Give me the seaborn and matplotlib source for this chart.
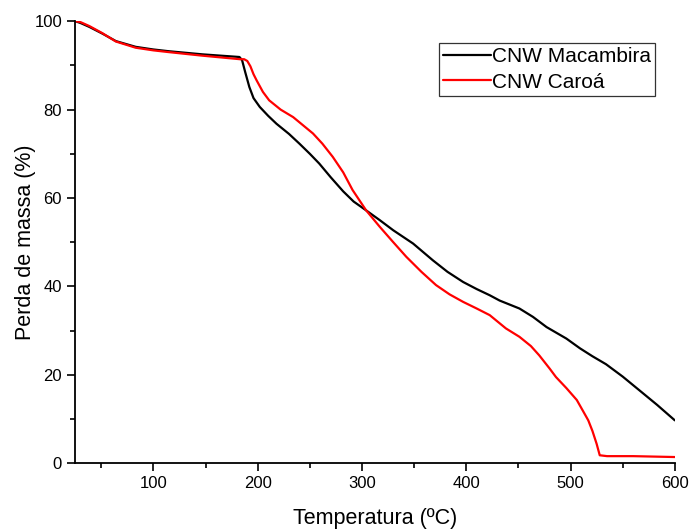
import numpy as np
import pandas as pd
import matplotlib
matplotlib.use('Agg')
import matplotlib.pyplot as plt
import seaborn as sns
from matplotlib.ticker import MultipleLocator

temp_macambira = [25, 30, 38.6, 51, 64, 83, 100, 115, 147, 182.5, 185, 188,
                  192, 196, 202, 210, 218, 230, 240, 250, 259, 270, 282, 292,
                  304, 317, 330, 349, 368, 382, 397, 410, 422.5, 432, 451, 464,
                  477, 496, 509, 521, 534, 550, 566, 583, 600]
massa_macambira = [100, 99.6, 98.7, 97.2, 95.5, 94.2, 93.6, 93.2, 92.5, 91.9,
                   91.2, 88.5, 85.1, 82.6, 80.6, 78.6, 76.8, 74.5, 72.3, 70.0,
                   67.8, 64.7, 61.5, 59.2, 57.2, 55.0, 52.7, 49.7, 45.9, 43.3,
                   41.0, 39.4, 38.0, 36.8, 35.0, 33.1, 30.8, 28.2, 26.0, 24.2,
                   22.4, 19.6, 16.5, 13.2, 9.7]

temp_caroa = [25, 30, 38.6, 51, 64, 83, 100, 115, 147, 183, 187, 190, 193, 196,
              199, 205, 211, 222, 234, 253, 262, 272, 282, 291, 304, 317, 330,
              342.5, 357, 371, 384, 397, 410, 422.5, 438, 451, 462, 470, 480,
              486, 496, 506, 512, 517, 521, 525, 528, 535, 560, 580, 600]
massa_caroa = [100, 99.8, 98.9, 97.3, 95.4, 94.0, 93.4, 93.0, 92.2, 91.4, 91.4,
               91.0, 89.8, 88.0, 86.6, 84.0, 82.1, 80.0, 78.3, 74.6, 72.3, 69.3,
               65.8, 61.8, 57.2, 53.5, 50.0, 46.7, 43.3, 40.3, 38.2, 36.5, 35.0,
               33.5, 30.5, 28.6, 26.5, 24.4, 21.4, 19.5, 17.0, 14.3, 11.8, 9.7,
               7.3, 4.4, 1.8, 1.6, 1.6, 1.5, 1.4]

LABELS = ['CNW Macambira', 'CNW Caroá']
CORES = {'CNW Macambira': 'black', 'CNW Caroá': 'red'}

df = pd.concat([
    pd.DataFrame({'T': temp_macambira, 'm': massa_macambira, 'amostra': LABELS[0]}),
    pd.DataFrame({'T': temp_caroa, 'm': massa_caroa, 'amostra': LABELS[1]}),
])

sns.set_style('ticks')
plt.rcParams['font.family'] = ['Liberation Sans', 'DejaVu Sans']
plt.rcParams['text.color'] = 'black'
plt.rcParams['axes.labelcolor'] = 'black'
plt.rcParams['xtick.color'] = 'black'
plt.rcParams['ytick.color'] = 'black'

fig = plt.figure(figsize=(6.9, 5.3), dpi=100)
ax = fig.add_axes([0.109, 0.126, 0.869, 0.834])

sns.lineplot(data=df, x='T', y='m', hue='amostra', palette=CORES,
             linewidth=1.6, ax=ax, sort=True, estimator=None)

ax.set_xlim(25, 600)
ax.set_ylim(0, 100)
ax.xaxis.set_major_locator(MultipleLocator(100))
ax.xaxis.set_minor_locator(MultipleLocator(50))
ax.yaxis.set_major_locator(MultipleLocator(20))
ax.yaxis.set_minor_locator(MultipleLocator(10))
ax.tick_params(which='major', length=6, width=1.2, labelsize=12)
ax.tick_params(which='minor', length=3.5, width=1.2)
for s in ['top', 'right']:
    ax.spines[s].set_visible(False)
for s in ['left', 'bottom']:
    ax.spines[s].set_linewidth(1.3)
    ax.spines[s].set_color('black')

ax.set_xlabel('Temperatura (ºC)', fontsize=15.5, labelpad=12)
ax.set_ylabel('Perda de massa (%)', fontsize=15.5, labelpad=-1)

leg = ax.legend(loc='upper left', bbox_to_anchor=(0.607, 0.95), fontsize=15,
                frameon=True, fancybox=False, handlelength=2.3, handletextpad=0.05,
                borderpad=0.2, labelspacing=0.3, borderaxespad=0)
leg.get_frame().set_edgecolor('black')
leg.get_frame().set_linewidth(0.9)
for h in leg.get_lines():
    h.set_linewidth(1.6)

fig.savefig('out.png', dpi=100)
